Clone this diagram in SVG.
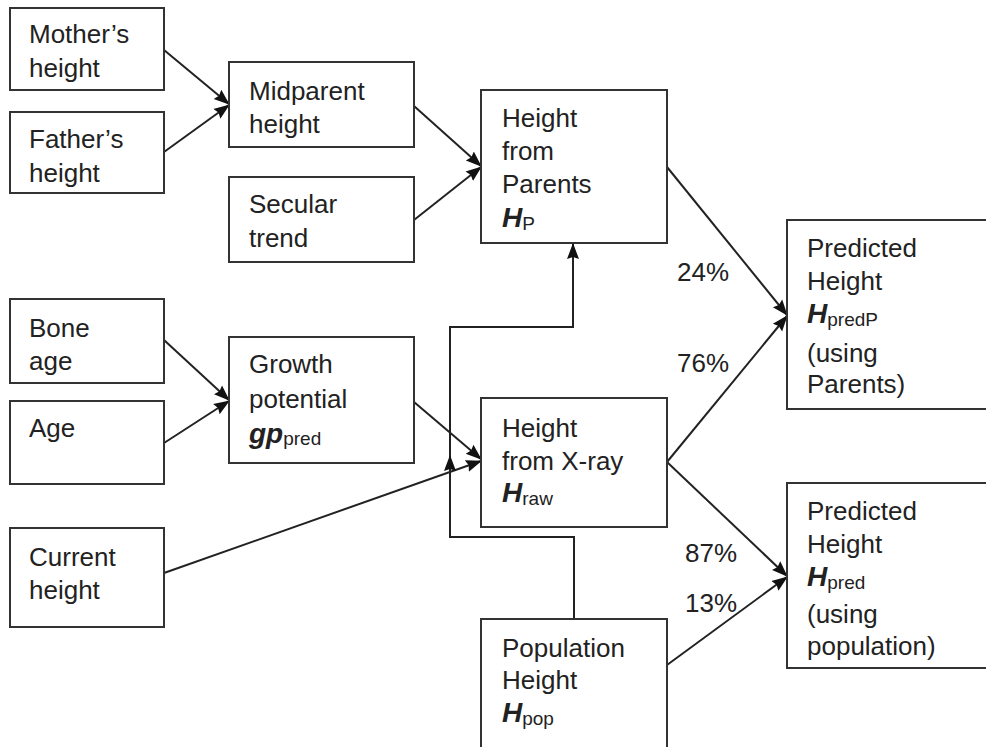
<svg xmlns="http://www.w3.org/2000/svg" width="986" height="747" viewBox="0 0 986 747">
<defs>
<style>
.box{fill:#fff;stroke:#333;stroke-width:2}
text{font-family:"Liberation Sans",Arial,sans-serif;font-size:26px;fill:#222}
.v{font-weight:bold;font-style:italic;font-size:28px}
.s{font-size:19px;font-weight:normal;font-style:normal}
.c{fill:none;stroke:#222;stroke-width:2}
</style>
<marker id="ah" markerUnits="userSpaceOnUse" markerWidth="16" markerHeight="14" refX="15" refY="7" orient="auto">
<path d="M0,1 L16,7 L0,13 L2,7 Z" fill="#111"/>
</marker>
</defs>
<rect width="986" height="747" fill="#fff"/>
<g id="connectors">
<line class="c" x1="164" y1="50" x2="229" y2="104" marker-end="url(#ah)"/>
<line class="c" x1="164" y1="152" x2="229" y2="105" marker-end="url(#ah)"/>
<line class="c" x1="414" y1="106" x2="481" y2="166" marker-end="url(#ah)"/>
<line class="c" x1="414" y1="220" x2="481" y2="167" marker-end="url(#ah)"/>
<line class="c" x1="164" y1="340" x2="229" y2="400" marker-end="url(#ah)"/>
<line class="c" x1="164" y1="443" x2="229" y2="401" marker-end="url(#ah)"/>
<line class="c" x1="414" y1="402" x2="481" y2="459" marker-end="url(#ah)"/>
<line class="c" x1="164" y1="573" x2="481" y2="461" marker-end="url(#ah)"/>
<path class="c" d="M574,619 V537 H450 V327 H573 V244" marker-end="url(#ah)"/>
<line class="c" x1="450" y1="480" x2="450" y2="456" marker-end="url(#ah)"/>
<line class="c" x1="667" y1="167" x2="787" y2="315" marker-end="url(#ah)"/>
<line class="c" x1="667" y1="462" x2="787" y2="316" marker-end="url(#ah)"/>
<line class="c" x1="667" y1="462" x2="787" y2="576" marker-end="url(#ah)"/>
<line class="c" x1="667" y1="665" x2="787" y2="577" marker-end="url(#ah)"/>
<text x="677" y="281">24%</text>
<text x="677" y="372">76%</text>
<text x="685" y="562">87%</text>
<text x="685" y="612">13%</text>
</g>
<g id="mother">
<rect class="box" x="10" y="8" width="154" height="82"/>
<text x="29" y="43">Mother’s</text>
<text x="29" y="77">height</text>
</g>
<g id="father">
<rect class="box" x="10" y="112" width="154" height="81"/>
<text x="29" y="148">Father’s</text>
<text x="29" y="182">height</text>
</g>
<g id="midparent">
<rect class="box" x="229" y="62" width="185" height="85"/>
<text x="249" y="100">Midparent</text>
<text x="249" y="133">height</text>
</g>
<g id="secular">
<rect class="box" x="229" y="177" width="185" height="85"/>
<text x="249" y="213">Secular</text>
<text x="249" y="247">trend</text>
</g>
<g id="parents">
<rect class="box" x="481" y="90" width="186" height="153"/>
<text x="502" y="127">Height</text>
<text x="502" y="160">from</text>
<text x="502" y="193">Parents</text>
<text x="502" y="227" class="v">H<tspan class="s" dy="3">P</tspan></text>
</g>
<g id="boneage">
<rect class="box" x="10" y="299" width="154" height="84"/>
<text x="29" y="337">Bone</text>
<text x="29" y="370">age</text>
</g>
<g id="age">
<rect class="box" x="10" y="401" width="154" height="83"/>
<text x="29" y="437">Age</text>
</g>
<g id="growth">
<rect class="box" x="229" y="337" width="185" height="126"/>
<text x="249" y="373">Growth</text>
<text x="249" y="408">potential</text>
<text x="249" y="443" class="v">gp<tspan class="s" dy="2">pred</tspan></text>
</g>
<g id="current">
<rect class="box" x="10" y="528" width="154" height="99"/>
<text x="29" y="566">Current</text>
<text x="29" y="599">height</text>
</g>
<g id="xray">
<rect class="box" x="481" y="398" width="186" height="129"/>
<text x="502" y="437">Height</text>
<text x="502" y="470">from X-ray</text>
<text x="502" y="502" class="v">H<tspan class="s" dy="3">raw</tspan></text>
</g>
<g id="population">
<rect class="box" x="481" y="619" width="186" height="140"/>
<text x="502" y="657">Population</text>
<text x="502" y="689">Height</text>
<text x="502" y="722" class="v">H<tspan class="s" dy="3">pop</tspan></text>
</g>
<g id="predP">
<rect class="box" x="787" y="220" width="210" height="189"/>
<text x="807" y="257">Predicted</text>
<text x="807" y="290">Height</text>
<text x="807" y="323" class="v">H<tspan class="s" dy="3">predP</tspan></text>
<text x="807" y="362">(using</text>
<text x="807" y="393">Parents)</text>
</g>
<g id="pred">
<rect class="box" x="787" y="483" width="210" height="185"/>
<text x="807" y="520">Predicted</text>
<text x="807" y="553">Height</text>
<text x="807" y="586" class="v">H<tspan class="s" dy="3">pred</tspan></text>
<text x="807" y="623">(using</text>
<text x="807" y="655">population)</text>
</g>
</svg>
